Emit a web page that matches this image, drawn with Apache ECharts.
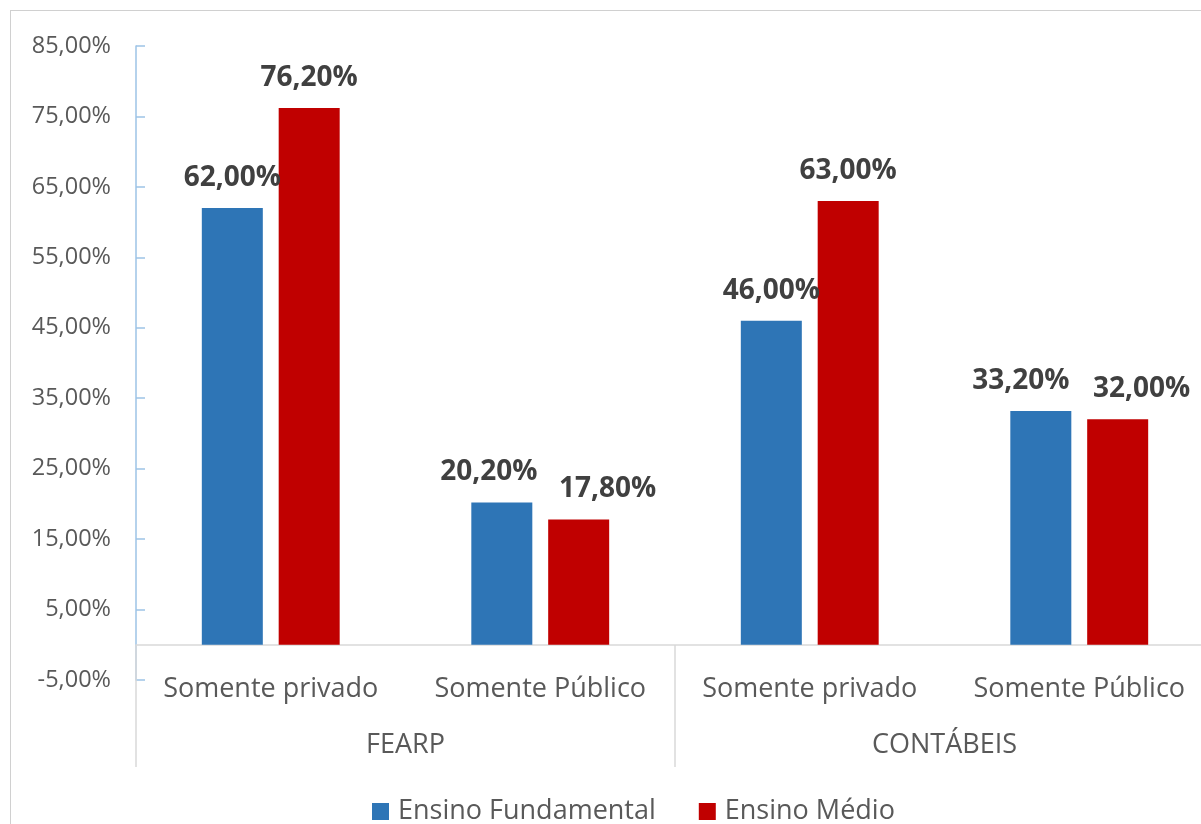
<!DOCTYPE html>
<html>
<head>
<meta charset="utf-8">
<script src="https://cdn.jsdelivr.net/npm/echarts@6/dist/echarts.min.js"></script>
<style>
  html, body { margin: 0; padding: 0; background: #ffffff; overflow: hidden; }
  #frame { position: absolute; left: 10px; top: 10px; width: 1400px; height: 1000px;
           border: 1.5px solid #d0d0d0; box-sizing: border-box; }
  /* canvas runs past the window edge so the last group is cut like a cropped slide */
  #chart { position: absolute; left: 0; top: 0; width: 1230px; height: 824px; }
</style>
</head>
<body>
<div id="frame"></div>
<div id="chart"></div>
<script>
// Categories: access type per institution
const categories = ['Somente privado', 'Somente Público', 'Somente privado', 'Somente Público'];
const groups = ['FEARP', 'CONTÁBEIS'];
const seriesNames = ['Ensino Fundamental', 'Ensino Médio'];
// Percentages
const fundamental = [62.0, 20.2, 46.0, 33.2];
const medio = [76.2, 17.8, 63.0, 32.0];
// Value axis range
const yMin = -5, yMax = 85, yStep = 10;

// Horizontal nudges so neighbouring value labels do not collide
const fundamentalLabelShift = [0, -13, 0, -20];
const medioLabelShift = [0, 29, 0, 24];

const fmt = v => v.toFixed(2).replace('.', ',') + '%';
const gray = '#595959';
const font = '"Open Sans", "Noto Sans", sans-serif';

const labelStyle = {
  show: true,
  position: 'top',
  distance: 16,
  formatter: p => fmt(p.value),
  color: '#404040',
  fontFamily: font,
  fontWeight: 'bold',
  fontSize: 28
};

const withShift = (values, shifts) =>
  values.map((v, i) => ({ value: v, label: { offset: [shifts[i], 0] } }));

const chart = echarts.init(document.getElementById('chart'));
chart.setOption({
  animation: false,
  backgroundColor: 'transparent',
  grid: { left: 136, right: 16, top: 46, bottom: 144, containLabel: false },
  legend: {
    data: seriesNames,
    left: 372,
    top: 798,
    padding: 0,
    icon: 'rect',
    itemWidth: 17,
    itemHeight: 17,
    itemGap: 43,
    textStyle: { color: gray, fontFamily: font, fontSize: 27, padding: [0, 0, 0, 4] }
  },
  xAxis: [
    {
      type: 'category',
      data: categories,
      position: 'bottom',
      axisLine: { show: true, onZero: true, lineStyle: { color: '#d9d9d9', width: 1.5 } },
      axisTick: { show: false },
      axisLabel: { color: gray, fontFamily: font, fontSize: 27, margin: -4, interval: 0 },
      splitLine: { show: false }
    },
    {
      type: 'category',
      data: groups,
      position: 'bottom',
      offset: 87,
      z: 5,
      axisLine: { show: false, onZero: false },
      axisTick: { show: true, inside: true, length: 122, lineStyle: { color: '#d9d9d9', width: 1.5 } },
      axisLabel: { inside: true, color: gray, fontFamily: font, fontSize: 27, margin: 8, interval: 0 },
      splitLine: { show: false }
    }
  ],
  yAxis: {
    type: 'value',
    min: yMin,
    max: yMax,
    interval: yStep,
    axisLine: { show: true, lineStyle: { color: '#9dc3e6', width: 1.5 } },
    axisTick: { show: true, inside: true, length: 9, lineStyle: { color: '#9dc3e6', width: 1.5 } },
    axisLabel: { color: gray, fontFamily: font, fontSize: 23.5, margin: 25, formatter: v => fmt(v) },
    splitLine: { show: false }
  },
  series: [
    {
      name: seriesNames[0],
      type: 'bar',
      data: withShift(fundamental, fundamentalLabelShift),
      barWidth: 61,
      barGap: '26%',
      itemStyle: { color: '#2e75b6' },
      label: labelStyle
    },
    {
      name: seriesNames[1],
      type: 'bar',
      data: withShift(medio, medioLabelShift),
      barWidth: 61,
      barGap: '26%',
      itemStyle: { color: '#c00000' },
      label: labelStyle
    }
  ]
});
</script>
</body>
</html>
